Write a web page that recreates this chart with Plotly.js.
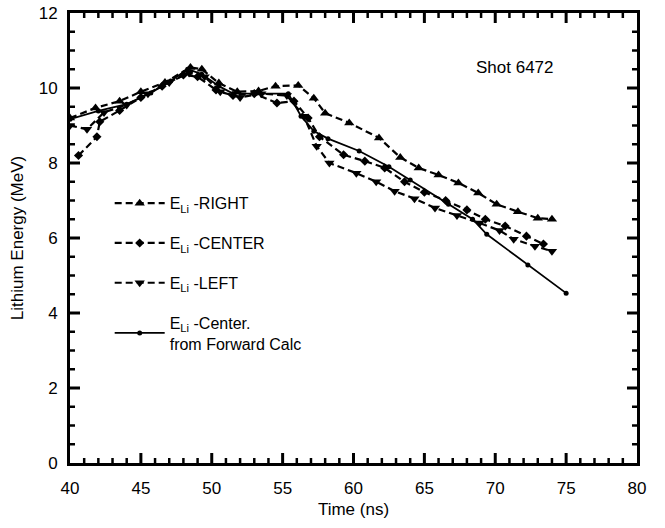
<!DOCTYPE html>
<html>
<head>
<meta charset="utf-8">
<script src="https://cdn.plot.ly/plotly-3.0.1.min.js"></script>
<style>html,body{margin:0;padding:0;background:#fff;}#chart{width:665px;height:528px;}</style>
</head>
<body>
<div id="chart"></div>
<script>
// Time (ns) and lithium energy (MeV)
const rightX  = [40, 41.8, 43.5, 45, 46.7, 48.5, 49.3, 50.5, 51.8, 53.3, 54.5, 56.1, 57.2, 58.0, 59.7, 61.8, 63.3, 64.6, 66.0, 67.4, 68.8, 70.1, 71.6, 73.0, 74.0];
const rightY  = [9.2, 9.47, 9.65, 9.9, 10.15, 10.55, 10.5, 10.13, 9.9, 9.92, 10.05, 10.07, 9.73, 9.33, 9.07, 8.67, 8.15, 7.87, 7.68, 7.47, 7.2, 6.9, 6.7, 6.53, 6.5];

const centerX = [40.6, 41.9, 42.1, 43.5, 45, 46.5, 48, 49, 50.3, 51.5, 53, 54.6, 55.8, 56.8, 57.6, 59.3, 60.8, 62.2, 63.6, 65.0, 66.5, 68.0, 69.3, 70.7, 72.2, 73.4];
const centerY = [8.2, 8.7, 9.1, 9.4, 9.75, 10.05, 10.35, 10.3, 9.95, 9.8, 9.85, 9.6, 9.65, 9.2, 8.7, 8.22, 8.05, 7.87, 7.5, 7.22, 7.0, 6.75, 6.5, 6.32, 6.05, 5.84];

const leftX   = [40, 41.2, 42.4, 44, 45.5, 47, 48.4, 49.5, 50.6, 52, 53.5, 55.3, 56.5, 57.4, 58.3, 60.2, 61.6, 62.9, 64.3, 65.75, 67.3, 68.9, 70.3, 71.3, 72.8, 74.0];
const leftY   = [9.0, 8.9, 9.35, 9.55, 9.85, 10.15, 10.4, 10.3, 9.9, 9.75, 9.85, 9.8, 9.25, 8.45, 8.0, 7.73, 7.5, 7.25, 7.05, 6.8, 6.6, 6.4, 6.2, 5.97, 5.78, 5.65];

const fwdX    = [40, 42, 44, 45.7, 47.1, 48.3, 49.3, 50.5, 51.5, 53, 55.4, 56.3, 57.2, 58.2, 60.4, 62.5, 64, 66.7, 68.4, 69.4, 72.3, 75];
const fwdY    = [9.17, 9.39, 9.57, 9.87, 10.19, 10.5, 10.37, 10.05, 9.85, 9.85, 9.85, 9.25, 8.85, 8.65, 8.32, 7.9, 7.55, 6.9, 6.5, 6.1, 5.28, 4.53];

const seriesNames = [
  "E<sub>Li</sub> -RIGHT",
  "E<sub>Li</sub> -CENTER",
  "E<sub>Li</sub> -LEFT",
  "E<sub>Li</sub> -Center.<br>from Forward Calc"
];

// axis settings
const xRange = [40, 80], xMajor = 5, xMinor = 1;
const yRange = [0, 12], yMajor = 2, yMinor = 0.5;

const dashStyle = "7px,4px";
const traces = [
  {x: rightX, y: rightY, name: seriesNames[0], legendgroup: "a", mode: "lines+markers",
   line: {color: "#000", width: 2.2, dash: dashStyle}, marker: {symbol: "triangle-up", size: 9, color: "#000"}},
  {x: centerX, y: centerY, name: seriesNames[1], legendgroup: "b", mode: "lines+markers",
   line: {color: "#000", width: 2.2, dash: dashStyle}, marker: {symbol: "diamond", size: 7, color: "#000"}},
  {x: leftX, y: leftY, name: seriesNames[2], legendgroup: "c", mode: "lines+markers",
   line: {color: "#000", width: 2.2, dash: dashStyle}, marker: {symbol: "triangle-down", size: 9, color: "#000"}},
  {x: fwdX, y: fwdY, name: seriesNames[3], legendgroup: "d", mode: "lines+markers",
   line: {color: "#000", width: 1.8}, marker: {symbol: "circle", size: 5, color: "#000"}}
];

const W = 665, H = 528, M = {l: 70, r: 28, t: 13, b: 65};
const plotW = W - M.l - M.r, plotH = H - M.t - M.b;

// Tick marks drawn on all four sides (inward), as layout shapes
const shapes = [];
function addXTick(v, len, w) {
  const f = len / plotH;
  shapes.push({type: "line", xref: "x", yref: "paper", x0: v, x1: v, y0: 0, y1: f, line: {color: "#000", width: w}, layer: "above"});
  shapes.push({type: "line", xref: "x", yref: "paper", x0: v, x1: v, y0: 1, y1: 1 - f, line: {color: "#000", width: w}, layer: "above"});
}
function addYTick(v, len, w) {
  const f = len / plotW;
  shapes.push({type: "line", xref: "paper", yref: "y", x0: 0, x1: f, y0: v, y1: v, line: {color: "#000", width: w}, layer: "above"});
  shapes.push({type: "line", xref: "paper", yref: "y", x0: 1, x1: 1 - f, y0: v, y1: v, line: {color: "#000", width: w}, layer: "above"});
}
for (let i = 1; i < Math.round((xRange[1] - xRange[0]) / xMinor); i++) {
  const v = xRange[0] + i * xMinor;
  const major = Math.abs(v / xMajor - Math.round(v / xMajor)) < 1e-9;
  addXTick(v, major ? 10 : 5, major ? 3 : 2.5);
}
for (let i = 1; i < Math.round((yRange[1] - yRange[0]) / yMinor); i++) {
  const v = yRange[0] + i * yMinor;
  const major = Math.abs(v / yMajor - Math.round(v / yMajor)) < 1e-9;
  addYTick(v, major ? 10 : 5, major ? 3 : 2.5);
}

const fam = "Liberation Sans, Arial, sans-serif";
const font = {family: fam, size: 17, color: "#000"};
const axisCommon = {
  ticks: "", showline: true, linecolor: "#000", linewidth: 3, mirror: true,
  showgrid: false, zeroline: false, showticklabels: true, tickfont: font
};
const layout = {
  width: W, height: H,
  margin: M,
  paper_bgcolor: "#fff", plot_bgcolor: "#fff",
  font: font,
  showlegend: true,
  legend: {x: 0.07, y: 0.615, xanchor: "left", yanchor: "top", bgcolor: "rgba(0,0,0,0)",
           borderwidth: 0, tracegroupgap: 16, itemwidth: 50,
           font: {family: fam, size: 16, color: "#000"}},
  xaxis: Object.assign({}, axisCommon, {
    range: xRange, tickmode: "linear", tick0: xRange[0], dtick: xMajor,
    ticklabelstandoff: 8,
    title: {text: "Time (ns)", font: font, standoff: 6}
  }),
  yaxis: Object.assign({}, axisCommon, {
    range: yRange, tickmode: "linear", tick0: yRange[0], dtick: yMajor,
    ticklabelstandoff: 6,
    title: {text: "Lithium Energy (MeV)", font: font, standoff: 11}
  }),
  shapes: shapes,
  annotations: [
    {x: 71.4, y: 10.56, xref: "x", yref: "y", text: "Shot 6472", showarrow: false, font: font}
  ]
};

Plotly.newPlot("chart", traces, layout, {displayModeBar: false});
</script>
</body>
</html>
